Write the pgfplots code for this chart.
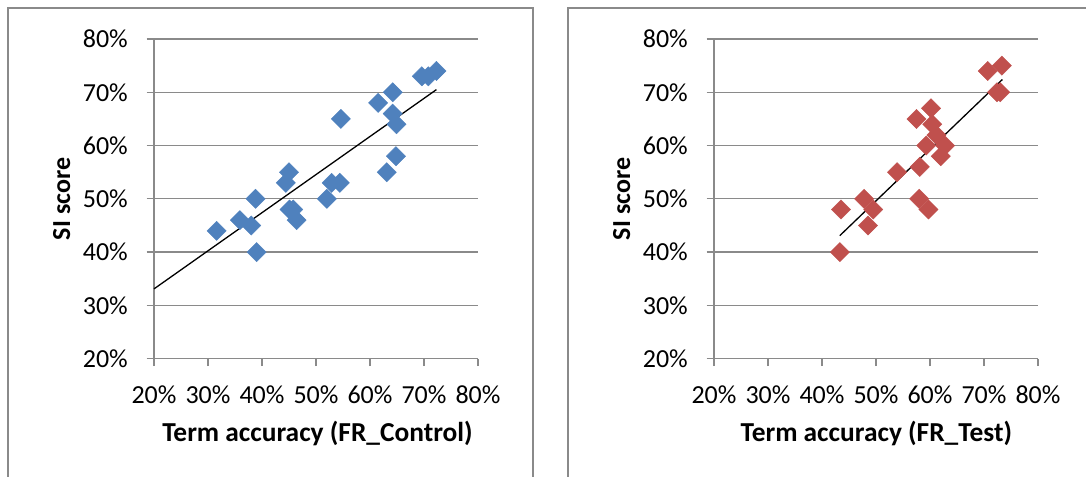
\documentclass[border=0pt]{standalone}
\usepackage{pgfplots}
\pgfplotsset{compat=1.18}
\usepackage{fontspec}
\setmainfont{Carlito}
\definecolor{exblue}{HTML}{4F81BD}
\definecolor{exred}{HTML}{C0504D}
\definecolor{exgray}{HTML}{8A8A8A}
\newcommand{\lblfont}{\fontsize{26bp}{30bp}\selectfont}
\newcommand{\xlblfont}{\fontsize{27.4bp}{31bp}\selectfont}
\pgfplotsset{
  mystyle/.style={
    scale only axis, width=324bp, height=319.7bp,
    xmin=20, xmax=80, ymin=20, ymax=80,
    xtick={20,30,...,80}, ytick={20,30,...,80},
    xticklabels={20\%,30\%,40\%,50\%,60\%,70\%,80\%},
    yticklabels={20\%,30\%,40\%,50\%,60\%,70\%,80\%},
    axis x line*=bottom, axis y line*=left,
    axis line style={exgray, line width=1.3bp, -},
    ymajorgrids, grid style={exgray, line width=1.3bp},
    tick align=outside, major tick length=7.5bp,
    tick style={exgray, line width=1.3bp},
    tick label style={font=\lblfont, inner sep=0pt, text=black},
    xticklabel style={anchor=north, yshift=-19bp},
    yticklabel style={anchor=east, xshift=-18.5bp},
    clip=false,
  },
  pts/.style={only marks, mark=square*, mark size=6.8bp,
    mark options={rotate=45, fill=#1, draw=#1}},
  trend/.style={black, line width=1.3bp, no marks},
}
\begin{document}
\begin{tikzpicture}[x=1bp, y=1bp]
\useasboundingbox (0,0) rectangle (1086,477);
\draw[exgray, line width=1.3bp] (8,469) rectangle (533,-30);
\draw[exgray, line width=1.3bp] (568,469) rectangle (1110,-30);

\begin{axis}[mystyle, at={(154bp,118.3bp)}, anchor=south west]
\addplot[pts=exblue] coordinates {
(72.3,74) (69.6,73) (70.8,73) (64.2,70) (61.5,68) (64.2,66) (64.9,64)
(54.6,65) (64.8,58) (63.1,55) (45.0,55) (44.4,53) (52.9,53) (54.4,53)
(52.0,50) (38.8,50) (45.1,48) (45.8,48) (46.4,46) (35.9,46) (38.0,45)
(31.6,44) (39.0,40)
};
\addplot[trend] coordinates {(20,33.1) (72.3,70.5)};
\end{axis}

\begin{axis}[mystyle, at={(714bp,118.3bp)}, anchor=south west]
\addplot[pts=exred] coordinates {
(73.3,75) (70.7,74) (73.0,70) (72.4,70) (60.2,67) (57.5,65) (60.4,64)
(61.2,62) (59.3,60) (62.8,60) (62.0,58) (58.1,56) (53.9,55) (47.8,50)
(58.0,50) (49.5,48) (43.5,48) (48.5,45) (59.7,48) (43.3,40)
};
\addplot[trend] coordinates {(43.3,43.1) (73.4,72.4)};
\end{axis}

\node[anchor=base, font=\bfseries\xlblfont, inner sep=0pt] at (317.5,35.5) {Term accuracy (FR\_Control)};
\node[anchor=base, font=\bfseries\xlblfont, inner sep=0pt] at (876.3,35.5) {Term accuracy (FR\_Test)};
\node[anchor=base, rotate=90, font=\bfseries\lblfont, inner sep=0pt] at (70,278) {SI score};
\node[anchor=base, rotate=90, font=\bfseries\lblfont, inner sep=0pt] at (630,278) {SI score};
\end{tikzpicture}
\end{document}
